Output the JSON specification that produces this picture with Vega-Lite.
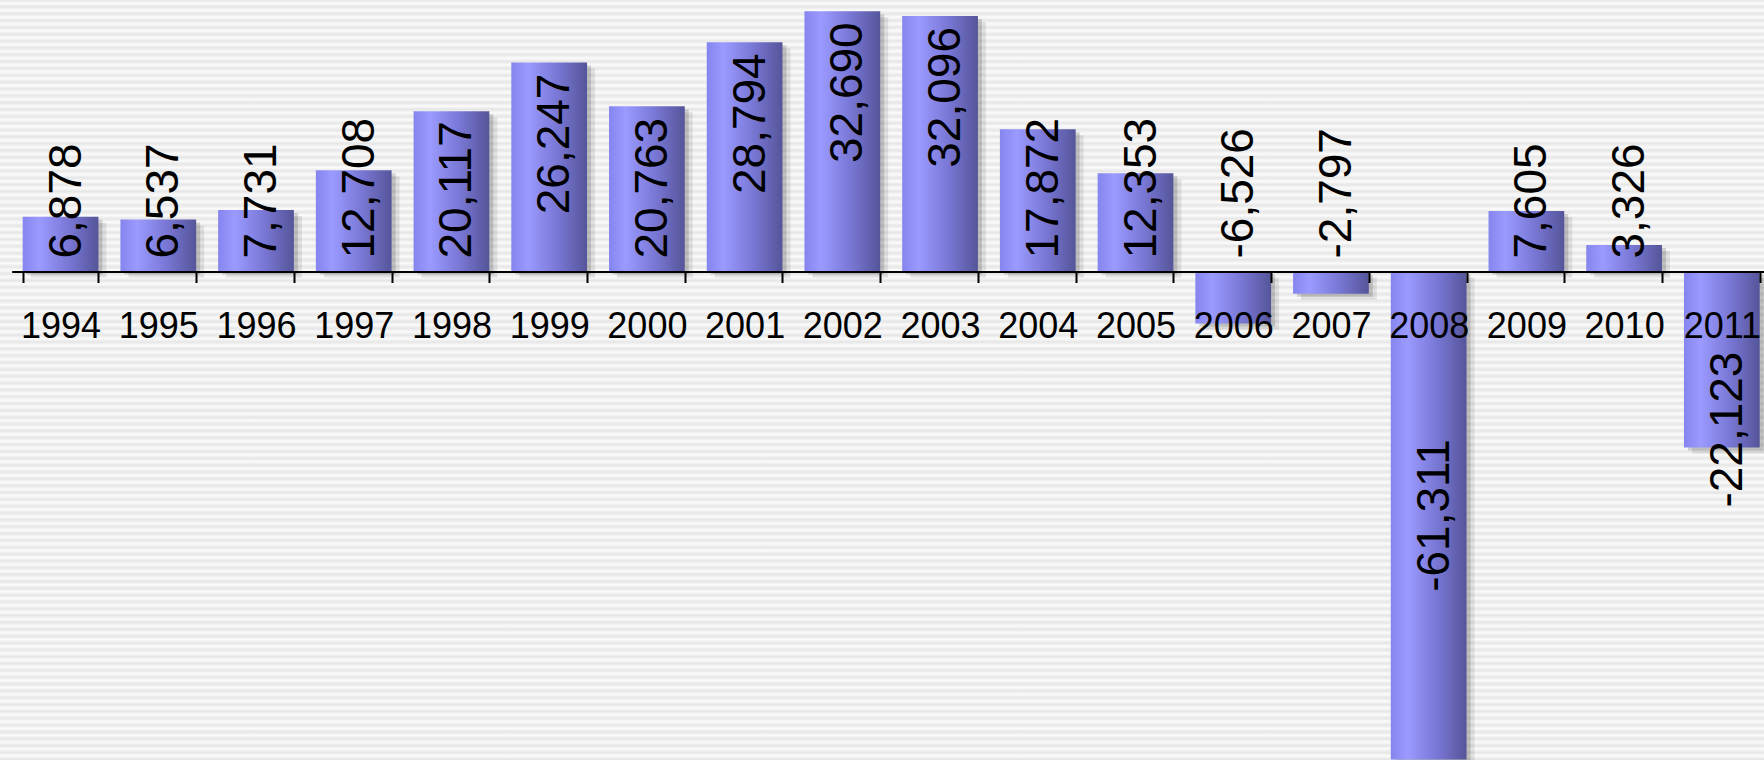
{
  "$schema": "https://vega.github.io/schema/vega-lite/v6.json",
  "width": 1764,
  "height": 760,
  "autosize": "none",
  "padding": 0,
  "background": "#ffffff",
  "view": {
    "stroke": null,
    "fill": {
      "gradient": "linear", "x1": 0, "y1": 0, "x2": 0, "y2": 1,
      "stops": [
        {"offset":0,"color":"#e6e6e6"},{"offset":0.0045,"color":"#fbfbfb"},{"offset":0.009,"color":"#e6e6e6"},{"offset":0.0135,"color":"#fbfbfb"},{"offset":0.018,"color":"#e6e6e6"},{"offset":0.0225,"color":"#fbfbfb"},{"offset":0.027,"color":"#e6e6e6"},{"offset":0.0315,"color":"#fbfbfb"},{"offset":0.036,"color":"#e6e6e6"},{"offset":0.0405,"color":"#fbfbfb"},
        {"offset":0.045,"color":"#e6e6e6"},{"offset":0.0495,"color":"#fbfbfb"},{"offset":0.054,"color":"#e6e6e6"},{"offset":0.0585,"color":"#fbfbfb"},{"offset":0.063,"color":"#e6e6e6"},{"offset":0.0675,"color":"#fbfbfb"},{"offset":0.072,"color":"#e6e6e6"},{"offset":0.0765,"color":"#fbfbfb"},{"offset":0.081,"color":"#e6e6e6"},{"offset":0.0855,"color":"#fbfbfb"},
        {"offset":0.09,"color":"#e6e6e6"},{"offset":0.0945,"color":"#fbfbfb"},{"offset":0.099,"color":"#e6e6e6"},{"offset":0.1035,"color":"#fbfbfb"},{"offset":0.108,"color":"#e6e6e6"},{"offset":0.1125,"color":"#fbfbfb"},{"offset":0.117,"color":"#e6e6e6"},{"offset":0.1215,"color":"#fbfbfb"},{"offset":0.126,"color":"#e6e6e6"},{"offset":0.1305,"color":"#fbfbfb"},
        {"offset":0.135,"color":"#e6e6e6"},{"offset":0.1395,"color":"#fbfbfb"},{"offset":0.144,"color":"#e6e6e6"},{"offset":0.1485,"color":"#fbfbfb"},{"offset":0.153,"color":"#e6e6e6"},{"offset":0.1575,"color":"#fbfbfb"},{"offset":0.162,"color":"#e6e6e6"},{"offset":0.1665,"color":"#fbfbfb"},{"offset":0.171,"color":"#e6e6e6"},{"offset":0.1755,"color":"#fbfbfb"},
        {"offset":0.18,"color":"#e6e6e6"},{"offset":0.1845,"color":"#fbfbfb"},{"offset":0.189,"color":"#e6e6e6"},{"offset":0.1935,"color":"#fbfbfb"},{"offset":0.198,"color":"#e6e6e6"},{"offset":0.2025,"color":"#fbfbfb"},{"offset":0.207,"color":"#e6e6e6"},{"offset":0.2115,"color":"#fbfbfb"},{"offset":0.216,"color":"#e6e6e6"},{"offset":0.2205,"color":"#fbfbfb"},
        {"offset":0.225,"color":"#e6e6e6"},{"offset":0.2295,"color":"#fbfbfb"},{"offset":0.234,"color":"#e6e6e6"},{"offset":0.2385,"color":"#fbfbfb"},{"offset":0.243,"color":"#e6e6e6"},{"offset":0.2475,"color":"#fbfbfb"},{"offset":0.252,"color":"#e6e6e6"},{"offset":0.2565,"color":"#fbfbfb"},{"offset":0.261,"color":"#e6e6e6"},{"offset":0.2655,"color":"#fbfbfb"},
        {"offset":0.27,"color":"#e6e6e6"},{"offset":0.2745,"color":"#fbfbfb"},{"offset":0.279,"color":"#e6e6e6"},{"offset":0.2835,"color":"#fbfbfb"},{"offset":0.288,"color":"#e6e6e6"},{"offset":0.2925,"color":"#fbfbfb"},{"offset":0.297,"color":"#e6e6e6"},{"offset":0.3015,"color":"#fbfbfb"},{"offset":0.306,"color":"#e6e6e6"},{"offset":0.3105,"color":"#fbfbfb"},
        {"offset":0.315,"color":"#e6e6e6"},{"offset":0.3195,"color":"#fbfbfb"},{"offset":0.324,"color":"#e6e6e6"},{"offset":0.3285,"color":"#fbfbfb"},{"offset":0.333,"color":"#e6e6e6"},{"offset":0.3375,"color":"#fbfbfb"},{"offset":0.342,"color":"#e6e6e6"},{"offset":0.3465,"color":"#fbfbfb"},{"offset":0.351,"color":"#e6e6e6"},{"offset":0.3555,"color":"#fbfbfb"},
        {"offset":0.36,"color":"#e6e6e6"},{"offset":0.3645,"color":"#fbfbfb"},{"offset":0.369,"color":"#e6e6e6"},{"offset":0.3735,"color":"#fbfbfb"},{"offset":0.378,"color":"#e6e6e6"},{"offset":0.3825,"color":"#fbfbfb"},{"offset":0.387,"color":"#e6e6e6"},{"offset":0.3915,"color":"#fbfbfb"},{"offset":0.396,"color":"#e6e6e6"},{"offset":0.4005,"color":"#fbfbfb"},
        {"offset":0.405,"color":"#e6e6e6"},{"offset":0.4095,"color":"#fbfbfb"},{"offset":0.414,"color":"#e6e6e6"},{"offset":0.4185,"color":"#fbfbfb"},{"offset":0.423,"color":"#e6e6e6"},{"offset":0.4275,"color":"#fbfbfb"},{"offset":0.432,"color":"#e6e6e6"},{"offset":0.4365,"color":"#fbfbfb"},{"offset":0.441,"color":"#e6e6e6"},{"offset":0.4455,"color":"#fbfbfb"},
        {"offset":0.45,"color":"#e6e6e6"},{"offset":0.4545,"color":"#fbfbfb"},{"offset":0.459,"color":"#e6e6e6"},{"offset":0.4635,"color":"#fbfbfb"},{"offset":0.468,"color":"#e6e6e6"},{"offset":0.4725,"color":"#fbfbfb"},{"offset":0.477,"color":"#e6e6e6"},{"offset":0.4815,"color":"#fbfbfb"},{"offset":0.486,"color":"#e6e6e6"},{"offset":0.4905,"color":"#fbfbfb"},
        {"offset":0.495,"color":"#e6e6e6"},{"offset":0.4995,"color":"#fbfbfb"},{"offset":0.504,"color":"#e6e6e6"},{"offset":0.5085,"color":"#fbfbfb"},{"offset":0.513,"color":"#e6e6e6"},{"offset":0.5175,"color":"#fbfbfb"},{"offset":0.522,"color":"#e6e6e6"},{"offset":0.5265,"color":"#fbfbfb"},{"offset":0.531,"color":"#e6e6e6"},{"offset":0.5355,"color":"#fbfbfb"},
        {"offset":0.54,"color":"#e6e6e6"},{"offset":0.5445,"color":"#fbfbfb"},{"offset":0.549,"color":"#e6e6e6"},{"offset":0.5535,"color":"#fbfbfb"},{"offset":0.558,"color":"#e6e6e6"},{"offset":0.5625,"color":"#fbfbfb"},{"offset":0.567,"color":"#e6e6e6"},{"offset":0.5715,"color":"#fbfbfb"},{"offset":0.576,"color":"#e6e6e6"},{"offset":0.5805,"color":"#fbfbfb"},
        {"offset":0.585,"color":"#e6e6e6"},{"offset":0.5895,"color":"#fbfbfb"},{"offset":0.594,"color":"#e6e6e6"},{"offset":0.5985,"color":"#fbfbfb"},{"offset":0.603,"color":"#e6e6e6"},{"offset":0.6075,"color":"#fbfbfb"},{"offset":0.612,"color":"#e6e6e6"},{"offset":0.6165,"color":"#fbfbfb"},{"offset":0.621,"color":"#e6e6e6"},{"offset":0.6255,"color":"#fbfbfb"},
        {"offset":0.63,"color":"#e6e6e6"},{"offset":0.6345,"color":"#fbfbfb"},{"offset":0.639,"color":"#e6e6e6"},{"offset":0.6435,"color":"#fbfbfb"},{"offset":0.648,"color":"#e6e6e6"},{"offset":0.6525,"color":"#fbfbfb"},{"offset":0.657,"color":"#e6e6e6"},{"offset":0.6615,"color":"#fbfbfb"},{"offset":0.666,"color":"#e6e6e6"},{"offset":0.6705,"color":"#fbfbfb"},
        {"offset":0.675,"color":"#e6e6e6"},{"offset":0.6795,"color":"#fbfbfb"},{"offset":0.684,"color":"#e6e6e6"},{"offset":0.6885,"color":"#fbfbfb"},{"offset":0.693,"color":"#e6e6e6"},{"offset":0.6975,"color":"#fbfbfb"},{"offset":0.702,"color":"#e6e6e6"},{"offset":0.7065,"color":"#fbfbfb"},{"offset":0.711,"color":"#e6e6e6"},{"offset":0.7155,"color":"#fbfbfb"},
        {"offset":0.72,"color":"#e6e6e6"},{"offset":0.7245,"color":"#fbfbfb"},{"offset":0.729,"color":"#e6e6e6"},{"offset":0.7335,"color":"#fbfbfb"},{"offset":0.738,"color":"#e6e6e6"},{"offset":0.7425,"color":"#fbfbfb"},{"offset":0.747,"color":"#e6e6e6"},{"offset":0.7515,"color":"#fbfbfb"},{"offset":0.756,"color":"#e6e6e6"},{"offset":0.7605,"color":"#fbfbfb"},
        {"offset":0.765,"color":"#e6e6e6"},{"offset":0.7695,"color":"#fbfbfb"},{"offset":0.774,"color":"#e6e6e6"},{"offset":0.7785,"color":"#fbfbfb"},{"offset":0.783,"color":"#e6e6e6"},{"offset":0.7875,"color":"#fbfbfb"},{"offset":0.792,"color":"#e6e6e6"},{"offset":0.7965,"color":"#fbfbfb"},{"offset":0.801,"color":"#e6e6e6"},{"offset":0.8055,"color":"#fbfbfb"},
        {"offset":0.81,"color":"#e6e6e6"},{"offset":0.8145,"color":"#fbfbfb"},{"offset":0.819,"color":"#e6e6e6"},{"offset":0.8235,"color":"#fbfbfb"},{"offset":0.828,"color":"#e6e6e6"},{"offset":0.8325,"color":"#fbfbfb"},{"offset":0.837,"color":"#e6e6e6"},{"offset":0.8415,"color":"#fbfbfb"},{"offset":0.846,"color":"#e6e6e6"},{"offset":0.8505,"color":"#fbfbfb"},
        {"offset":0.855,"color":"#e6e6e6"},{"offset":0.8595,"color":"#fbfbfb"},{"offset":0.864,"color":"#e6e6e6"},{"offset":0.8685,"color":"#fbfbfb"},{"offset":0.873,"color":"#e6e6e6"},{"offset":0.8775,"color":"#fbfbfb"},{"offset":0.882,"color":"#e6e6e6"},{"offset":0.8865,"color":"#fbfbfb"},{"offset":0.891,"color":"#e6e6e6"},{"offset":0.8955,"color":"#fbfbfb"},
        {"offset":0.9,"color":"#e6e6e6"},{"offset":0.9045,"color":"#fbfbfb"},{"offset":0.909,"color":"#e6e6e6"},{"offset":0.9135,"color":"#fbfbfb"},{"offset":0.918,"color":"#e6e6e6"},{"offset":0.9225,"color":"#fbfbfb"},{"offset":0.927,"color":"#e6e6e6"},{"offset":0.9315,"color":"#fbfbfb"},{"offset":0.936,"color":"#e6e6e6"},{"offset":0.9405,"color":"#fbfbfb"},
        {"offset":0.945,"color":"#e6e6e6"},{"offset":0.9495,"color":"#fbfbfb"},{"offset":0.954,"color":"#e6e6e6"},{"offset":0.9585,"color":"#fbfbfb"},{"offset":0.963,"color":"#e6e6e6"},{"offset":0.9675,"color":"#fbfbfb"},{"offset":0.972,"color":"#e6e6e6"},{"offset":0.9765,"color":"#fbfbfb"},{"offset":0.981,"color":"#e6e6e6"},{"offset":0.9855,"color":"#fbfbfb"},
        {"offset":0.99,"color":"#e6e6e6"},{"offset":0.9945,"color":"#fbfbfb"},{"offset":0.999,"color":"#e6e6e6"}
      ]
    }
  },
  "data": {
    "values": [
      {"year": "1994", "value": 6878, "label": "6,878"},
      {"year": "1995", "value": 6537, "label": "6,537"},
      {"year": "1996", "value": 7731, "label": "7,731"},
      {"year": "1997", "value": 12708, "label": "12,708"},
      {"year": "1998", "value": 20117, "label": "20,117"},
      {"year": "1999", "value": 26247, "label": "26,247"},
      {"year": "2000", "value": 20763, "label": "20,763"},
      {"year": "2001", "value": 28794, "label": "28,794"},
      {"year": "2002", "value": 32690, "label": "32,690"},
      {"year": "2003", "value": 32096, "label": "32,096"},
      {"year": "2004", "value": 17872, "label": "17,872"},
      {"year": "2005", "value": 12353, "label": "12,353"},
      {"year": "2006", "value": -6526, "label": "-6,526"},
      {"year": "2007", "value": -2797, "label": "-2,797"},
      {"year": "2008", "value": -61311, "label": "-61,311"},
      {"year": "2009", "value": 7605, "label": "7,605"},
      {"year": "2010", "value": 3326, "label": "3,326"},
      {"year": "2011", "value": -22123, "label": "-22,123"}
    ]
  },
  "encoding": {
    "x": {
      "field": "year",
      "type": "nominal",
      "sort": null,
      "scale": {"range": [11.7, 1770.7], "paddingInner": 0.225, "paddingOuter": 0.1125},
      "axis": {
        "orient": "bottom",
        "offset": -488.5,
        "zindex": 1,
        "domainColor": "#000000",
        "domainWidth": 2,
        "tickColor": "#000000",
        "tickWidth": 2,
        "tickSize": 11,
        "tickBand": "extent",
        "labelFont": "Liberation Sans",
        "labelFontSize": 36,
        "labelColor": "#000000",
        "labelPadding": 27,
        "labelAngle": 0,
        "labelOverlap": false,
        "labelFlush": false,
        "title": null,
        "grid": false
      }
    }
  },
  "layer": [
    {
      "mark": {"type": "bar", "fill": "#000000", "opacity": 0.09, "xOffset": 8, "yOffset": 6},
      "encoding": {
        "y": {"field": "value", "type": "quantitative", "scale": {"domain": [-61369, 34108], "nice": false, "zero": false}, "axis": null}
      }
    },
    {
      "mark": {"type": "bar", "fill": "#000000", "opacity": 0.15, "xOffset": 4, "yOffset": 3},
      "encoding": {
        "y": {"field": "value", "type": "quantitative", "scale": {"domain": [-61369, 34108], "nice": false, "zero": false}, "axis": null}
      }
    },
    {
      "mark": {
        "type": "bar",
        "stroke": null,
        "fill": {
          "gradient": "linear", "x1": 0, "y1": 0, "x2": 1, "y2": 0,
          "stops": [
            {"offset": 0, "color": "#8585ee"},
            {"offset": 0.22, "color": "#9a9aff"},
            {"offset": 0.6, "color": "#7a78d6"},
            {"offset": 1, "color": "#55559a"}
          ]
        }
      },
      "encoding": {
        "y": {"field": "value", "type": "quantitative", "scale": {"domain": [-61369, 34108], "nice": false, "zero": false}, "axis": null}
      }
    },
    {
      "transform": [{"filter": "datum.value <= 25000 && datum.year != '2008' && datum.year != '2011'"}],
      "mark": {"type": "text", "font": "Liberation Sans", "fontSize": 46, "angle": 270, "align": "left", "baseline": "middle", "dx": 13, "dy": 6, "color": "#000000"},
      "encoding": {
        "y": {"datum": 0, "type": "quantitative", "scale": {"domain": [-61369, 34108], "nice": false, "zero": false}, "axis": null},
        "text": {"field": "label"}
      }
    },
    {
      "transform": [{"filter": "datum.value > 25000"}],
      "mark": {"type": "text", "font": "Liberation Sans", "fontSize": 46, "angle": 270, "align": "right", "baseline": "middle", "dx": -11, "dy": 6, "color": "#000000"},
      "encoding": {
        "y": {"field": "value", "type": "quantitative", "scale": {"domain": [-61369, 34108], "nice": false, "zero": false}, "axis": null},
        "text": {"field": "label"}
      }
    },
    {
      "transform": [{"filter": "datum.year == '2011'"}],
      "mark": {"type": "text", "font": "Liberation Sans", "fontSize": 46, "angle": 270, "align": "center", "baseline": "middle", "dx": 18, "dy": 6, "color": "#000000"},
      "encoding": {
        "y": {"field": "value", "type": "quantitative", "scale": {"domain": [-61369, 34108], "nice": false, "zero": false}, "axis": null},
        "text": {"field": "label"}
      }
    },
    {
      "transform": [{"filter": "datum.year == '2008'"}, {"calculate": "datum.value / 2", "as": "mid"}],
      "mark": {"type": "text", "font": "Liberation Sans", "fontSize": 46, "angle": 270, "align": "center", "baseline": "middle", "dy": 6, "color": "#000000"},
      "encoding": {
        "y": {"field": "mid", "type": "quantitative", "scale": {"domain": [-61369, 34108], "nice": false, "zero": false}, "axis": null},
        "text": {"field": "label"}
      }
    }
  ],
  "config": {
    "view": {"stroke": null}
  }
}
